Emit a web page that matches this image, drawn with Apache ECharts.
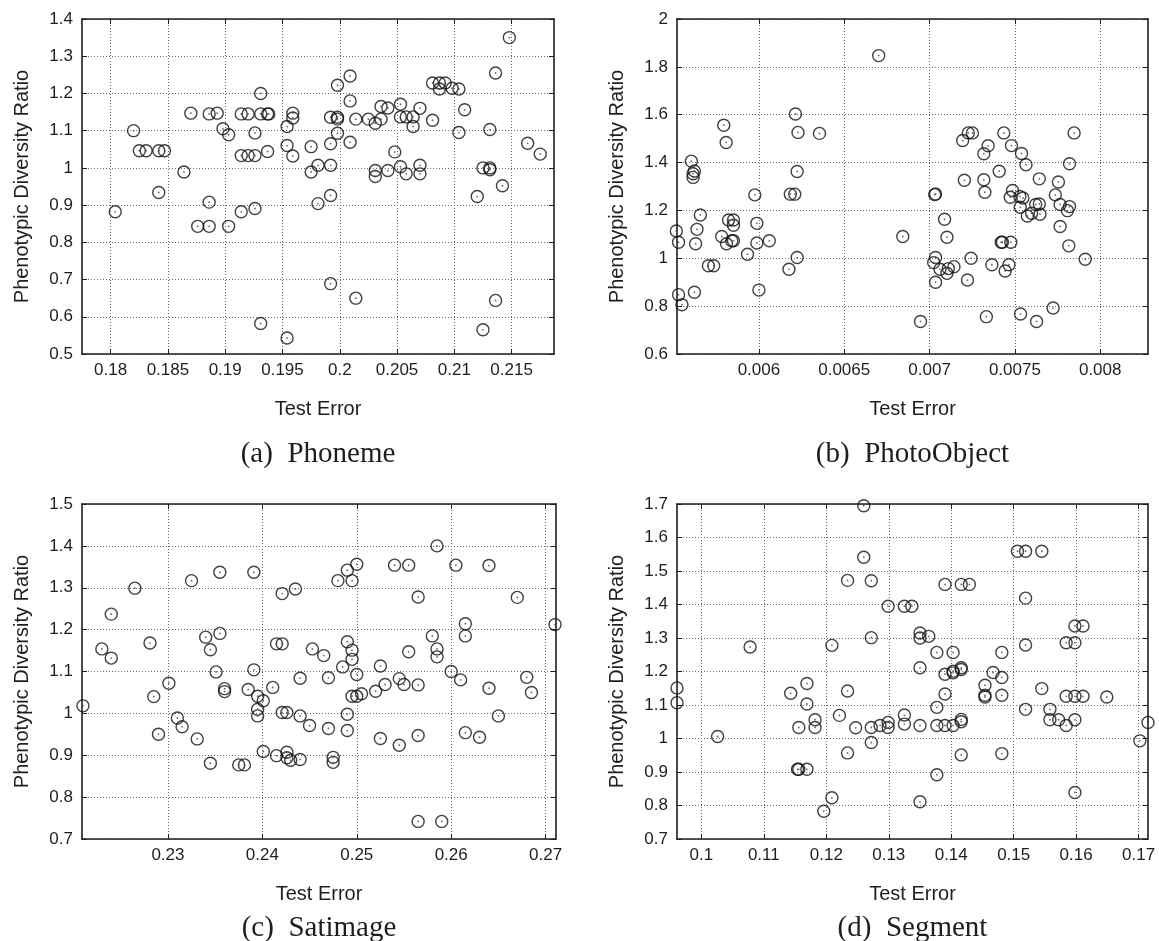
<!DOCTYPE html>
<html>
<head>
<meta charset="utf-8">
<script src="https://cdn.jsdelivr.net/npm/echarts@6/dist/echarts.min.js"></script>
<style>
html, body { margin: 0; padding: 0; background: #fff; }
#chart { width: 1159px; height: 941px; }
</style>
</head>
<body>
<div id="chart"></div>
<script>
// (a) Phoneme
var phonemeX = [0.1804, 0.1820, 0.1825, 0.1831, 0.1842, 0.1847, 0.1842, 0.1864, 0.1870, 0.1876,
    0.1886, 0.1886, 0.1886, 0.1893, 0.1898, 0.1903, 0.1903, 0.1914, 0.1920, 0.1914,
    0.1920, 0.1926, 0.1926, 0.1914, 0.1926, 0.1931, 0.1931, 0.1937, 0.1938, 0.1937,
    0.1931, 0.1954, 0.1959, 0.1959, 0.1954, 0.1959, 0.1954, 0.1975, 0.1975, 0.1981,
    0.1981, 0.1992, 0.1992, 0.1992, 0.1992, 0.1992, 0.1998, 0.1998, 0.1998, 0.1998,
    0.2009, 0.2009, 0.2009, 0.2014, 0.2014, 0.2025, 0.2031, 0.2031, 0.2031, 0.2036,
    0.2042, 0.2036, 0.2042, 0.2048, 0.2053, 0.2053, 0.2053, 0.2058, 0.2058, 0.2064,
    0.2064, 0.2070, 0.2070, 0.2070, 0.2081, 0.2081, 0.2087, 0.2087, 0.2092, 0.2098,
    0.2104, 0.2104, 0.2109, 0.2120, 0.2125, 0.2125, 0.2131, 0.2131, 0.2131, 0.2136,
    0.2136, 0.2142, 0.2148, 0.2164, 0.2175];
var phonemeY = [0.882, 1.100, 1.046, 1.046, 1.046, 1.046, 0.934, 0.989, 1.147, 0.843,
    0.843, 0.908, 1.145, 1.147, 1.105, 1.089, 0.843, 1.145, 1.145, 1.033,
    1.033, 1.033, 1.094, 0.882, 0.891, 1.200, 1.145, 1.145, 1.145, 1.044,
    0.582, 1.111, 1.147, 1.134, 1.060, 1.032, 0.543, 1.057, 0.989, 1.007,
    0.904, 1.065, 1.007, 0.926, 0.689, 1.136, 1.136, 1.131, 1.222, 1.093,
    1.247, 1.180, 1.069, 1.131, 0.650, 1.131, 1.120, 0.993, 0.977, 1.165,
    1.161, 1.131, 0.993, 1.043, 1.171, 1.137, 1.003, 1.137, 0.984, 1.137,
    1.111, 1.160, 1.007, 0.984, 1.228, 1.128, 1.228, 1.212, 1.228, 1.214,
    1.212, 1.095, 1.156, 0.923, 1.000, 0.565, 1.103, 1.000, 0.995, 1.255,
    0.644, 0.952, 1.350, 1.066, 1.037];

// (b) PhotoObject
var photoX = [0.005516, 0.005529, 0.005529, 0.005549, 0.005604, 0.005622, 0.005614, 0.005614, 0.005629, 0.005637,
    0.005657, 0.005622, 0.005704, 0.005735, 0.005794, 0.005808, 0.005782, 0.005810, 0.005822, 0.005851,
    0.005851, 0.005851, 0.005841, 0.005933, 0.005976, 0.005988, 0.005988, 0.006000, 0.006061, 0.006176,
    0.006184, 0.006210, 0.006214, 0.006229, 0.006224, 0.006224, 0.006355, 0.006702, 0.006843, 0.006947,
    0.007035, 0.007030, 0.007035, 0.007024, 0.007035, 0.007061, 0.007088, 0.007102, 0.007102, 0.007110,
    0.007143, 0.007194, 0.007204, 0.007222, 0.007227, 0.007251, 0.007243, 0.007318, 0.007343, 0.007318,
    0.007324, 0.007333, 0.007365, 0.007408, 0.007427, 0.007420, 0.007435, 0.007443, 0.007465, 0.007476,
    0.007480, 0.007486, 0.007473, 0.007529, 0.007539, 0.007547, 0.007531, 0.007533, 0.007565, 0.007573,
    0.007598, 0.007622, 0.007643, 0.007647, 0.007643, 0.007627, 0.007724, 0.007737, 0.007755, 0.007765,
    0.007765, 0.007808, 0.007820, 0.007816, 0.007820, 0.007847, 0.007912];
var photoY = [1.114, 1.067, 0.848, 0.806, 1.406, 1.365, 1.353, 1.338, 1.061, 1.121,
    1.181, 0.858, 0.969, 0.969, 1.556, 1.484, 1.091, 1.061, 1.160, 1.160,
    1.138, 1.073, 1.073, 1.017, 1.265, 1.146, 1.064, 0.867, 1.073, 0.954,
    1.268, 1.268, 1.603, 1.526, 1.363, 1.003, 1.522, 1.847, 1.091, 0.736,
    1.269, 1.266, 1.003, 0.982, 0.900, 0.954, 1.163, 1.088, 0.937, 0.957,
    0.965, 1.492, 1.326, 0.909, 1.524, 1.524, 1.000, 1.437, 1.470, 1.328,
    1.276, 0.756, 0.973, 1.364, 1.067, 1.067, 1.524, 0.947, 0.973, 1.067,
    1.471, 1.283, 1.255, 1.258, 1.438, 1.252, 1.213, 0.767, 1.391, 1.177,
    1.188, 1.225, 1.227, 1.184, 1.332, 0.736, 0.792, 1.265, 1.319, 1.225,
    1.133, 1.199, 1.216, 1.052, 1.395, 1.524, 0.996];

// (c) Satimage
var satX = [0.2210, 0.2230, 0.2240, 0.2240, 0.2265, 0.2281, 0.2285, 0.2290, 0.2301, 0.2310,
    0.2315, 0.2325, 0.2331, 0.2340, 0.2345, 0.2345, 0.2351, 0.2355, 0.2355, 0.2360,
    0.2360, 0.2375, 0.2381, 0.2385, 0.2391, 0.2391, 0.2395, 0.2395, 0.2395, 0.2401,
    0.2401, 0.2411, 0.2415, 0.2415, 0.2421, 0.2421, 0.2421, 0.2426, 0.2426, 0.2426,
    0.2430, 0.2435, 0.2440, 0.2440, 0.2440, 0.2450, 0.2453, 0.2465, 0.2470, 0.2470,
    0.2475, 0.2475, 0.2480, 0.2485, 0.2490, 0.2490, 0.2490, 0.2490, 0.2495, 0.2495,
    0.2495, 0.2495, 0.2500, 0.2500, 0.2500, 0.2505, 0.2520, 0.2525, 0.2525, 0.2530,
    0.2540, 0.2545, 0.2545, 0.2550, 0.2555, 0.2555, 0.2565, 0.2565, 0.2565, 0.2565,
    0.2580, 0.2585, 0.2585, 0.2585, 0.2590, 0.2600, 0.2605, 0.2610, 0.2615, 0.2615,
    0.2615, 0.2630, 0.2640, 0.2640, 0.2650, 0.2670, 0.2680, 0.2685, 0.2710];
var satY = [1.018, 1.154, 1.237, 1.132, 1.299, 1.168, 1.040, 0.950, 1.072, 0.989,
    0.968, 1.317, 0.939, 1.182, 1.152, 0.881, 1.099, 1.337, 1.191, 1.059,
    1.052, 0.877, 0.877, 1.057, 1.337, 1.104, 1.041, 1.010, 0.994, 1.030,
    0.909, 1.062, 0.899, 1.166, 1.166, 1.286, 1.002, 1.002, 0.907, 0.894,
    0.888, 1.297, 1.084, 0.994, 0.890, 0.971, 1.154, 1.138, 1.085, 0.964,
    0.895, 0.883, 1.317, 1.111, 1.342, 1.171, 0.998, 0.959, 1.317, 1.151,
    1.129, 1.041, 1.356, 1.093, 1.041, 1.047, 1.053, 1.113, 0.940, 1.069,
    1.354, 1.083, 0.924, 1.069, 1.354, 1.147, 1.278, 1.068, 0.947, 0.742,
    1.185, 1.400, 1.154, 1.135, 0.742, 1.100, 1.354, 1.080, 1.214, 1.185,
    0.954, 0.943, 1.353, 1.060, 0.994, 1.277, 1.086, 1.050, 1.212];

// (d) Segment
var segX = [0.0961, 0.0961, 0.1026, 0.1078, 0.1143, 0.1156, 0.1156, 0.1154, 0.1169, 0.1169,
    0.1169, 0.1182, 0.1182, 0.1196, 0.1209, 0.1209, 0.1221, 0.1234, 0.1234, 0.1234,
    0.1247, 0.1260, 0.1260, 0.1272, 0.1272, 0.1272, 0.1272, 0.1286, 0.1299, 0.1299,
    0.1299, 0.1325, 0.1337, 0.1325, 0.1325, 0.1350, 0.1350, 0.1350, 0.1350, 0.1350,
    0.1364, 0.1377, 0.1377, 0.1377, 0.1377, 0.1390, 0.1390, 0.1390, 0.1390, 0.1403,
    0.1403, 0.1403, 0.1403, 0.1416, 0.1416, 0.1416, 0.1416, 0.1416, 0.1416, 0.1429,
    0.1454, 0.1454, 0.1454, 0.1467, 0.1481, 0.1481, 0.1481, 0.1481, 0.1506, 0.1519,
    0.1545, 0.1519, 0.1519, 0.1519, 0.1545, 0.1558, 0.1558, 0.1572, 0.1584, 0.1584,
    0.1584, 0.1598, 0.1598, 0.1598, 0.1598, 0.1598, 0.1611, 0.1611, 0.1649, 0.1702,
    0.1715];
var segY = [1.151, 1.107, 1.006, 1.273, 1.135, 1.033, 0.908, 0.908, 0.908, 1.164,
    1.103, 1.056, 1.033, 0.783, 1.278, 0.823, 1.069, 1.472, 1.142, 0.957,
    1.032, 1.695, 1.541, 1.471, 1.301, 1.033, 0.988, 1.039, 1.048, 1.033,
    1.395, 1.395, 1.395, 1.070, 1.043, 1.315, 1.300, 1.211, 1.039, 0.811,
    1.305, 1.257, 1.093, 1.039, 0.892, 1.460, 1.192, 1.133, 1.039, 1.257,
    1.201, 1.196, 1.039, 1.460, 1.211, 1.206, 1.057, 1.050, 0.951, 1.460,
    1.159, 1.129, 1.124, 1.197, 1.257, 1.182, 1.129, 0.955, 1.559, 1.559,
    1.559, 1.419, 1.279, 1.087, 1.149, 1.087, 1.056, 1.056, 1.039, 1.286,
    1.126, 1.336, 1.286, 1.126, 1.056, 0.839, 1.336, 1.126, 1.124, 0.993,
    1.048];

// axis ticks
var phonemeTicks = [0.18, 0.185, 0.19, 0.195, 0.2, 0.205, 0.21, 0.215];
var photoTicks = [0.006, 0.0065, 0.007, 0.0075, 0.008];
var satTicks = [0.23, 0.24, 0.25, 0.26, 0.27];
var segTicks = [0.1, 0.11, 0.12, 0.13, 0.14, 0.15, 0.16, 0.17];

var captions = ['(a)  Phoneme', '(b)  PhotoObject', '(c)  Satimage', '(d)  Segment'];

var panels = [
    { x: phonemeX, y: phonemeY, ticks: phonemeTicks, xMin: 0.1775, xMax: 0.2187, yMin: 0.5, yMax: 1.4, yStep: 0.1,
      rect: [82, 19, 472, 335], capY: 454 },
    { x: photoX, y: photoY, ticks: photoTicks, xMin: 0.00552, xMax: 0.00828, yMin: 0.6, yMax: 2, yStep: 0.2,
      rect: [677, 19, 471, 335], capY: 454 },
    { x: satX, y: satY, ticks: satTicks, xMin: 0.2209, xMax: 0.2711, yMin: 0.7, yMax: 1.5, yStep: 0.1,
      rect: [82, 504, 474, 335], capY: 928 },
    { x: segX, y: segY, ticks: segTicks, xMin: 0.0961, xMax: 0.1715, yMin: 0.7, yMax: 1.7, yStep: 0.1,
      rect: [677, 504, 471, 335], capY: 928 }
];

var font = "'Liberation Sans', Arial, sans-serif";
var ink = '#1e1e1e';

var grids = [], xAxes = [], yAxes = [], series = [], graphics = [];

panels.forEach(function (p, i) {
    grids.push({ left: p.rect[0], top: p.rect[1], width: p.rect[2], height: p.rect[3] });

    var pts = p.x.map(function (v, k) { return [v, p.y[k]]; });

    // bottom axis with labels and grid
    xAxes.push({
        type: 'value', gridIndex: i, min: p.xMin, max: p.xMax,
        name: 'Test Error', nameLocation: 'middle', nameGap: 45,
        nameTextStyle: { fontFamily: font, fontSize: 20, color: ink },
        axisLine: { show: true, onZero: false, lineStyle: { color: ink, width: 1.6 } },
        axisTick: { show: true, inside: true, length: 5, customValues: p.ticks, lineStyle: { color: ink } },
        axisLabel: { show: true, customValues: p.ticks, fontFamily: font, fontSize: 17, color: ink, margin: 8 },
        splitLine: { show: true, lineStyle: { color: '#6a6a6a', width: 1, type: [1, 2] } }
    });
    // top axis for the box
    xAxes.push({
        type: 'value', gridIndex: i, min: p.xMin, max: p.xMax, position: 'top',
        axisLine: { show: true, onZero: false, lineStyle: { color: ink, width: 1.6 } },
        axisTick: { show: true, inside: true, length: 5, customValues: p.ticks, lineStyle: { color: ink } },
        axisLabel: { show: false },
        splitLine: { show: false }
    });
    yAxes.push({
        type: 'value', gridIndex: i, min: p.yMin, max: p.yMax, interval: p.yStep,
        name: 'Phenotypic Diversity Ratio', nameLocation: 'middle', nameGap: 50,
        nameTextStyle: { fontFamily: font, fontSize: 20, color: ink },
        axisLine: { show: true, onZero: false, lineStyle: { color: ink, width: 1.6 } },
        axisTick: { show: true, inside: true, length: 5, lineStyle: { color: ink } },
        axisLabel: { fontFamily: font, fontSize: 17, color: ink, margin: 9 },
        splitLine: { show: true, lineStyle: { color: '#6a6a6a', width: 1, type: [1, 2] } }
    });
    yAxes.push({
        type: 'value', gridIndex: i, min: p.yMin, max: p.yMax, interval: p.yStep, position: 'right',
        axisLine: { show: true, onZero: false, lineStyle: { color: ink, width: 1.6 } },
        axisTick: { show: true, inside: true, length: 5, lineStyle: { color: ink } },
        axisLabel: { show: false },
        splitLine: { show: false }
    });

    series.push({
        type: 'scatter', xAxisIndex: 2 * i, yAxisIndex: 2 * i, data: pts,
        symbol: 'circle', symbolSize: 12, clip: false, silent: true,
        itemStyle: { color: 'rgba(0,0,0,0)', borderColor: '#111', borderWidth: 1.4 }
    });
    series.push({
        type: 'scatter', xAxisIndex: 2 * i, yAxisIndex: 2 * i, data: pts,
        symbol: 'circle', symbolSize: 1.8, clip: false, silent: true,
        itemStyle: { color: '#444' }
    });

    graphics.push({
        type: 'text', x: p.rect[0] + p.rect[2] / 2, y: p.capY,
        style: { text: captions[i], font: "29px 'Liberation Serif', 'Times New Roman', serif",
            fill: ink, align: 'center', verticalAlign: 'middle' }
    });
});

var chart = echarts.init(document.getElementById('chart'));
chart.setOption({
    animation: false,
    backgroundColor: '#fff',
    grid: grids,
    xAxis: xAxes,
    yAxis: yAxes,
    series: series,
    graphic: graphics
});
</script>
</body>
</html>
